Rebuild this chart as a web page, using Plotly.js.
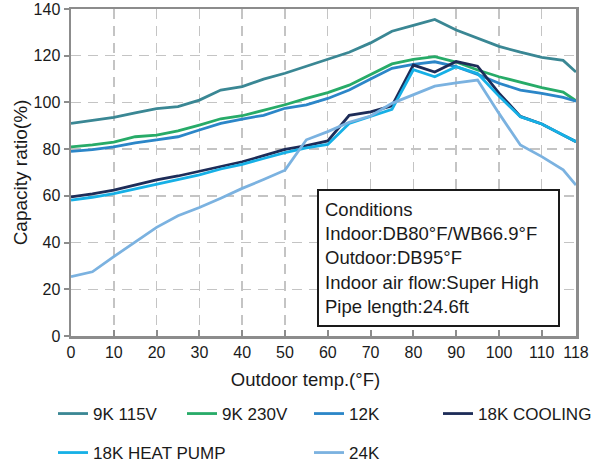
<!DOCTYPE html>
<html>
<head>
<meta charset="utf-8">
<script src="https://cdn.plot.ly/plotly-3.0.1.min.js"></script>
<style>
  html, body { margin: 0; padding: 0; background: #ffffff; }
  #chart { width: 601px; height: 466px; }
</style>
</head>
<body>
<div id="chart"></div>
<script>
// Outdoor temperature (°F)
const temps = [0, 5, 10, 15, 20, 25, 30, 35, 40, 45, 50, 55, 60, 65, 70, 75, 80, 85, 90, 95, 100, 105, 110, 115, 118];

// Capacity ratio (%) per model
const cap9k115 = [91, 92.2, 93.6, 95.5, 97.3, 98.2, 101, 105.3, 106.8, 110, 112.5, 115.5, 118.5, 121.5, 125.5, 130.5, 133, 135.5, 131, 127.5, 124, 121.5, 119.3, 118, 113];
const cap9k230 = [81, 81.8, 83, 85.3, 86, 87.8, 90.3, 93, 94.3, 96.5, 99, 101.7, 104.2, 107.4, 112, 116.5, 118.4, 119.6, 117.3, 113.9, 111, 108.7, 106.3, 104.4, 100.7];
const cap12k = [79, 79.8, 81, 82.7, 84, 85.3, 88.2, 91, 92.9, 94.5, 97.5, 99, 101.7, 105.3, 110, 114.6, 116.3, 117.4, 115.3, 112, 108.2, 105.3, 103.9, 102.2, 100.5];
const cap18kCool = [59.6, 60.8, 62.5, 64.6, 66.8, 68.5, 70.5, 72.5, 74.6, 77.2, 79.9, 81.5, 83.5, 94.5, 96, 98.5, 116, 113, 117.5, 115.5, 104, 94, 90.8, 86, 83.2];
const cap18kHeat = [58.2, 59.4, 61, 63, 65.2, 67, 69, 71.5, 73.5, 76, 78.5, 80.5, 82, 91, 93.9, 97, 114, 111, 115.3, 112.4, 102.7, 93.9, 90.8, 86, 83.2];
const cap24k = [25.4, 27.5, 34, 40.4, 46.5, 51.5, 55, 59, 63.2, 67, 71, 84, 87.5, 91.5, 94.2, 99.6, 103.2, 107, 108.4, 109.6, 95.3, 81.8, 76.8, 71.1, 64.6];

const seriesNames = ["9K 115V", "9K 230V", "12K", "18K COOLING", "18K HEAT PUMP", "24K"];
const seriesValues = [cap9k115, cap9k230, cap12k, cap18kCool, cap18kHeat, cap24k];

const xTickVals = [0, 10, 20, 30, 40, 50, 60, 70, 80, 90, 100, 110, 118];
const xTickText = ["0", "10", "20", "30", "40", "50", "60", "70", "80", "90", "100", "110", "118"];
const yTickVals = [0, 20, 40, 60, 80, 100, 120, 140];

const xTitle = "Outdoor temp.(°F)";
const yTitle = "Capacity ratio(%)";
const conditionLines = ["Conditions", "Indoor:DB80°F/WB66.9°F", "Outdoor:DB95°F", "Indoor air flow:Super High", "Pipe length:24.6ft"];

// styling
const colors = ["#3a8794", "#27ab68", "#2b86c8", "#1d2c58", "#16b0e6", "#7bb2e0"];
const legendPos = [[53, 414], [182, 414], [309, 414], [438, 414], [53, 453], [309, 453]];
const FONT = "'Liberation Sans', Arial, Helvetica, sans-serif";
const W = 601, H = 466;
// trailing no-break spaces nudge the centred x title slightly left, as in the reference
const xTitlePad = "&nbsp;".repeat(7);

const legendKeys = ["legend", "legend2", "legend3", "legend4", "legend5", "legend6"];

const traces = seriesNames.map((name, i) => ({
  type: "scatter",
  mode: "lines",
  name: name,
  x: temps,
  y: seriesValues[i],
  line: { color: colors[i], width: 2.8 },
  legend: legendKeys[i],
  hoverinfo: "skip"
}));

const layout = {
  width: W,
  height: H,
  margin: { l: 71, r: 25, t: 9, b: 130 },
  paper_bgcolor: "#ffffff",
  plot_bgcolor: "#ffffff",
  font: { family: FONT, size: 16, color: "#1a1a1a" },
  showlegend: true,
  xaxis: {
    range: [0, 118],
    tickmode: "array",
    tickvals: xTickVals,
    ticktext: xTickText,
    showgrid: true,
    gridcolor: "#c4c4c4",
    gridwidth: 1.4,
    griddash: "10px,7px",
    showline: true,
    linecolor: "#8c8c8c",
    linewidth: 2.5,
    mirror: true,
    ticks: "inside",
    ticklen: 6,
    tickwidth: 2,
    tickcolor: "#8c8c8c",
    zeroline: false,
    tickfont: { family: FONT, size: 16, color: "#1a1a1a" },
    title: { text: xTitle + xTitlePad, font: { family: FONT, size: 18.5, color: "#1a1a1a" }, standoff: 14 },
    fixedrange: true
  },
  yaxis: {
    range: [0, 140],
    tickmode: "array",
    tickvals: yTickVals,
    showgrid: true,
    gridcolor: "#c4c4c4",
    gridwidth: 1.4,
    griddash: "10px,7px",
    showline: true,
    linecolor: "#8c8c8c",
    linewidth: 2.5,
    mirror: true,
    ticks: "outside",
    ticklen: 5,
    tickwidth: 2,
    tickcolor: "#8c8c8c",
    zeroline: false,
    tickfont: { family: FONT, size: 16, color: "#1a1a1a" },
    title: { text: yTitle, font: { family: FONT, size: 19, color: "#1a1a1a" }, standoff: 1 },
    fixedrange: true
  },
  annotations: [{
    xref: "paper", yref: "paper",
    x: (317 - 71) / 505, y: (336 - 189) / 327,
    xanchor: "left", yanchor: "top",
    text: conditionLines.join("<br>"),
    showarrow: false,
    align: "left",
    width: 227,
    height: 122,
    borderpad: 6,
    borderwidth: 2,
    bordercolor: "#1a1a1a",
    bgcolor: "#ffffff",
    font: { family: FONT, size: 18.5, color: "#1a1a1a" }
  }]
};

legendKeys.forEach((k, i) => {
  layout[k] = {
    xref: "container", yref: "container",
    x: legendPos[i][0] / W,
    y: 1 - legendPos[i][1] / H,
    xanchor: "left", yanchor: "middle",
    orientation: "h",
    bgcolor: "rgba(0,0,0,0)",
    borderwidth: 0,
    font: { family: FONT, size: 17, color: "#1a1a1a" }
  };
});

Plotly.newPlot("chart", traces, layout, { displayModeBar: false, staticPlot: true });
</script>
</body>
</html>
